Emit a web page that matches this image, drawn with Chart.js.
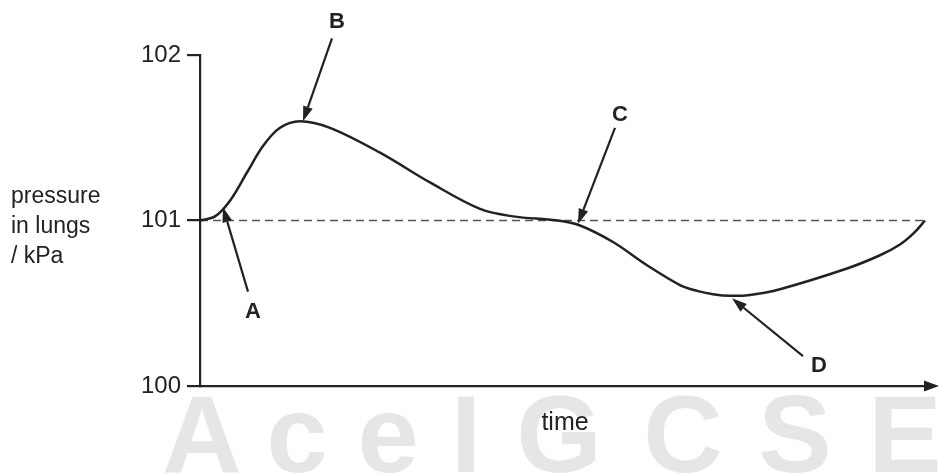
<!DOCTYPE html>
<html>
<head>
<meta charset="utf-8">
<script src="https://cdn.jsdelivr.net/npm/chart.js@4"></script>
<style>
  body { margin: 0; background: #fff; }
  #wrap { width: 939px; height: 474px; position: relative; }
</style>
</head>
<body>
<div id="wrap"><canvas id="lungs"></canvas></div>
<script>
// time in arbitrary units, pressure in kPa
const times    = [0, 1.5, 3, 4.7, 6.3, 8, 10, 13, 18, 23, 28, 31.3, 35.7, 38, 41.3, 44.7, 48, 49.7, 51.3, 53, 55, 58, 64.7, 68, 70, 71.4, 72.5];
const pressure = [101.00, 101.025, 101.12, 101.29, 101.45, 101.56, 101.60, 101.56, 101.41, 101.23, 101.07, 101.025, 101.00, 100.97, 100.87, 100.73, 100.61, 100.575, 100.555, 100.545, 100.55, 100.585, 100.71, 100.79, 100.855, 100.925, 101.00];
const yTicks = [100, 101, 102];
const baseline = 101;

// labelled points A-D: arrow tip, arrow tail and letter, all in data units
const marks     = ['A', 'B', 'C', 'D'];
const tipT      = [2.3, 10.3, 37.8, 53.2];
const tipP      = [101.08, 101.60, 100.98, 100.53];
const tailT     = [4.8, 13.2, 41.5, 60.3];
const tailP     = [100.57, 102.10, 101.56, 100.18];
const letterT   = [5.3, 13.7, 42.0, 61.9];
const letterP   = [100.45, 102.20, 101.64, 100.12];

const yTitle = ['pressure', 'in lungs', '/ kPa'];
const watermark = ['A', 'c', 'e', 'I', 'G', 'C', 'S', 'E'];
const watermarkX = [202, 297, 388, 466, 559, 683, 795, 905];

const curve = times.map((t, i) => ({x: t, y: pressure[i]}));
const dashed = [{x: 0, y: baseline}, {x: times[times.length - 1], y: baseline}];

const arrow = (ctx, x1, y1, x2, y2) => {
    const a = Math.atan2(y2 - y1, x2 - x1);
    const len = 15, half = 5;
    const bx = x2 - len * Math.cos(a), by = y2 - len * Math.sin(a);
    ctx.beginPath();
    ctx.moveTo(x1, y1);
    ctx.lineTo(bx, by);
    ctx.stroke();
    ctx.beginPath();
    ctx.moveTo(x2, y2);
    ctx.lineTo(bx + half * Math.sin(a), by - half * Math.cos(a));
    ctx.lineTo(bx - half * Math.sin(a), by + half * Math.cos(a));
    ctx.closePath();
    ctx.fill();
};

const backdrop = {
    id: 'backdrop',
    beforeDraw(chart) {
        const ctx = chart.ctx;
        ctx.save();
        ctx.fillStyle = '#e6e6e6';
        ctx.font = 'bold 110px "Liberation Sans", Arial, sans-serif';
        ctx.textAlign = 'center';
        ctx.textBaseline = 'alphabetic';
        watermark.forEach((ch, i) => ctx.fillText(ch, watermarkX[i], 472));
        ctx.restore();
    }
};

const extras = {
    id: 'extras',
    afterDraw(chart) {
        const ctx = chart.ctx;
        const xs = chart.scales.x, ys = chart.scales.y;
        const area = chart.chartArea;
        ctx.save();
        // arrowhead on the time axis
        const ay = ys.getPixelForValue(100);
        ctx.fillStyle = '#222';
        ctx.beginPath();
        ctx.moveTo(area.right + 9, ay);
        ctx.lineTo(area.right - 6, ay - 5.5);
        ctx.lineTo(area.right - 6, ay + 5.5);
        ctx.closePath();
        ctx.fill();

        // y title
        ctx.font = '23px "Liberation Sans", Arial, sans-serif';
        ctx.textAlign = 'left';
        ctx.textBaseline = 'alphabetic';
        yTitle.forEach((s, i) => ctx.fillText(s, 11, 203 + i * 30));

        // labelled arrows
        ctx.strokeStyle = '#222';
        ctx.lineWidth = 2.2;
        ctx.font = 'bold 22px "Liberation Sans", Arial, sans-serif';
        ctx.textAlign = 'center';
        ctx.textBaseline = 'middle';
        marks.forEach((m, i) => {
            arrow(ctx,
                xs.getPixelForValue(tailT[i]), ys.getPixelForValue(tailP[i]),
                xs.getPixelForValue(tipT[i]), ys.getPixelForValue(tipP[i]));
            ctx.fillText(m, xs.getPixelForValue(letterT[i]), ys.getPixelForValue(letterP[i]));
        });
        ctx.restore();
    }
};

new Chart(document.getElementById('lungs').getContext('2d'), {
    type: 'line',
    data: {
        datasets: [{
            data: curve,
            borderColor: '#222',
            borderWidth: 2.5,
            pointRadius: 0,
            tension: 0.35,
            fill: false,
            clip: false
        }, {
            data: dashed,
            borderColor: '#555',
            borderWidth: 1.5,
            borderDash: [8, 5],
            pointRadius: 0,
            fill: false
        }]
    },
    options: {
        responsive: true,
        maintainAspectRatio: false,
        animation: false,
        events: [],
        layout: { padding: { left: 0, right: 9, top: 55, bottom: 0 } },
        plugins: { legend: { display: false }, tooltip: { enabled: false } },
        scales: {
            x: {
                type: 'linear',
                min: 0,
                max: 73,
                grid: { display: false },
                border: { color: '#222', width: 2.2 },
                ticks: { display: false },
                title: {
                    display: true,
                    text: 'time',
                    color: '#222',
                    font: { size: 25, family: '"Liberation Sans", Arial, sans-serif' },
                    padding: { top: 0, bottom: 36 }
                },
                afterFit: s => { s.height = 88; }
            },
            y: {
                min: 100,
                max: 102,
                afterBuildTicks: s => { s.ticks = yTicks.map(v => ({value: v})); },
                grid: { drawOnChartArea: false, tickLength: 13, color: '#222', lineWidth: 2.2 },
                border: { color: '#222', width: 2.2 },
                ticks: {
                    color: '#222',
                    padding: 6,
                    font: { size: 24, family: '"Liberation Sans", Arial, sans-serif' }
                },
                afterFit: s => { s.width = 200; }
            }
        }
    },
    plugins: [backdrop, extras]
});
</script>
</body>
</html>
